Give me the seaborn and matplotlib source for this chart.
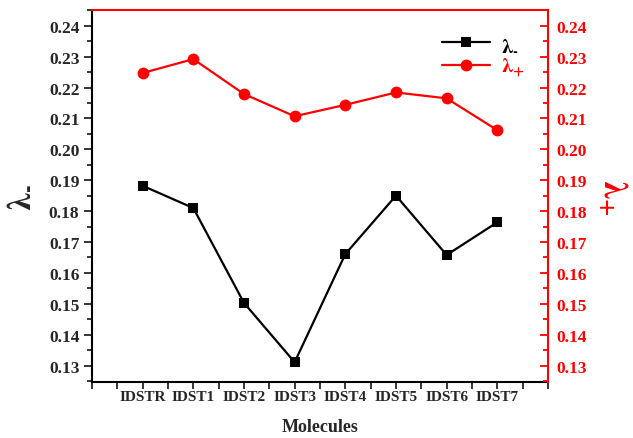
import matplotlib
matplotlib.use("Agg")
import matplotlib.pyplot as plt
import seaborn as sns
import pandas as pd
import numpy as np
from matplotlib.ticker import MultipleLocator, FixedLocator

molecules = ["IDSTR", "IDST1", "IDST2", "IDST3", "IDST4", "IDST5", "IDST6", "IDST7"]
lambda_minus = [0.1882, 0.1810, 0.1503, 0.1311, 0.1661, 0.1850, 0.1658, 0.1764]
lambda_plus = [0.2247, 0.2292, 0.2179, 0.2107, 0.2144, 0.2184, 0.2165, 0.2062]

sns.set_style("ticks")
plt.rcParams["font.family"] = ["Liberation Serif", "DejaVu Serif"]
plt.rcParams["font.weight"] = "bold"
plt.rcParams["mathtext.fontset"] = "stix"

df = pd.DataFrame({"x": np.arange(len(molecules)), "minus": lambda_minus, "plus": lambda_plus})

fig = plt.figure(figsize=(6.33, 4.39), dpi=100)
ax = fig.add_axes([0.1453, 0.1276, 0.8657 - 0.1453, 0.975 - 0.1276])
ax2 = ax.twinx()

lab_m = r"$\mathbf{\lambda}_{\text{-}}$"
lab_p = r"$\mathbf{\lambda}_{\mathbf{+}}$"

sns.lineplot(data=df, x="x", y="minus", ax=ax, color="black", marker="s",
             markersize=7, markeredgewidth=0, linewidth=1.6, label=lab_m, legend=False)
sns.lineplot(data=df, x="x", y="plus", ax=ax2, color="#ff0000", marker="o",
             markersize=8.5, markeredgewidth=0, linewidth=1.6, label=lab_p, legend=False)

ylim = (0.1247, 0.2451)
for a in (ax, ax2):
    a.set_ylim(*ylim)
    a.set_xlim(-1, 8)
    a.yaxis.set_major_locator(MultipleLocator(0.01))
    a.yaxis.set_minor_locator(MultipleLocator(0.005))

ax.set_xticks(list(range(-1, 9)))
ax.set_xticklabels([""] + molecules + [""], fontsize=11, fontweight="bold")
ax.xaxis.set_minor_locator(FixedLocator(np.arange(-0.5, 8, 1.0)))
ax.tick_params(axis="x", which="both", direction="out", length=5, width=1.3, pad=0.5)

ticks = np.round(np.arange(0.13, 0.2401, 0.01), 2)
ax.set_yticks(ticks)
ax.set_yticklabels([f"{v:.2f}" for v in ticks], fontsize=12.5, fontweight="bold")
ax.tick_params(axis="y", which="major", direction="out", length=6, width=1.3, pad=3)
ax.tick_params(axis="y", which="minor", direction="out", length=3.5, width=1.3)

ax2.set_yticks(ticks)
ax2.set_yticklabels([f"{v:.2f}" for v in ticks], fontsize=12.5, fontweight="bold", color="#ff0000")
ax2.tick_params(axis="y", which="major", direction="in", length=6, width=1.3, color="#ff0000", pad=6)
ax2.tick_params(axis="y", which="minor", direction="in", length=3.5, width=1.3, color="#ff0000")
ax2.set_ylim(*ylim)

for s in ["left", "bottom"]:
    ax.spines[s].set_linewidth(1.5)
    ax.spines[s].set_color("black")
for s in ["right", "top"]:
    ax2.spines[s].set_linewidth(1.5)
    ax2.spines[s].set_color("#ff0000")
ax2.spines["left"].set_visible(False)
ax2.spines["bottom"].set_visible(False)
ax.spines["top"].set_visible(False)
ax.spines["right"].set_visible(False)

ax.set_xlabel("Molecules", fontsize=13, fontweight="bold", labelpad=11)
ax.set_ylabel(lab_m, fontsize=24, labelpad=10)
ax2.set_ylabel(lab_p, fontsize=24, color="#ff0000", rotation=270, labelpad=30)

h1, l1 = ax.get_legend_handles_labels()
h2, l2 = ax2.get_legend_handles_labels()
leg = ax2.legend(h1 + h2, l1 + l2, loc="upper right", bbox_to_anchor=(0.99, 0.985), frameon=False,
                 fontsize=15, handlelength=2.3, handletextpad=0.5, labelspacing=0.1)
for t, c in zip(leg.get_texts(), ["black", "#ff0000"]):
    t.set_color(c)

fig.savefig("out.png", dpi=100)
